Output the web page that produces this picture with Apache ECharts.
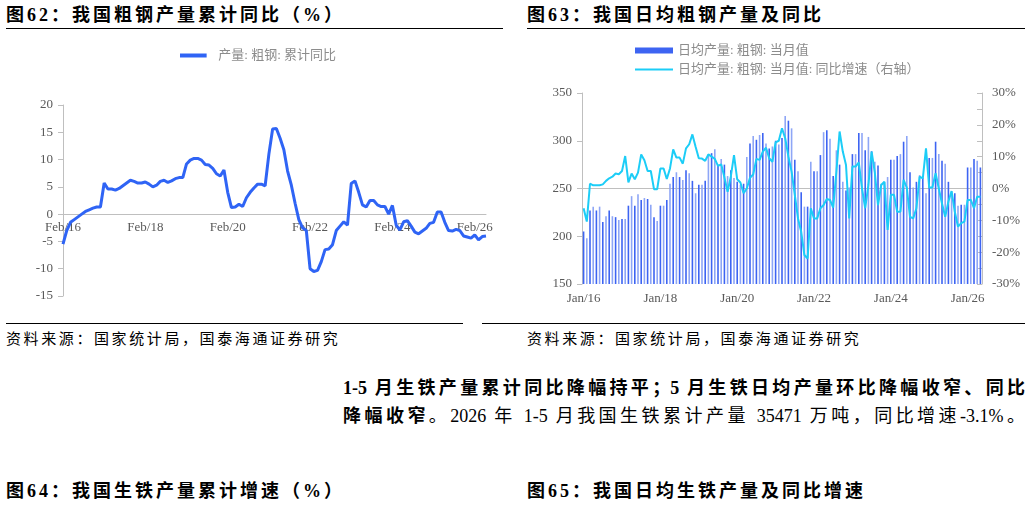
<!DOCTYPE html>
<html><head><meta charset="utf-8">
<script src="https://cdn.jsdelivr.net/npm/echarts@6/dist/echarts.min.js"></script>
<style>
body{margin:0;width:1032px;height:518px;background:#fff;position:relative;overflow:hidden;font-family:"Liberation Serif","Noto Sans CJK SC",serif;color:#000}
.h{position:absolute;font-weight:bold;font-size:18px;letter-spacing:3px;top:3px;height:25px;border-bottom:1.5px solid #000;line-height:24px}
.s{position:absolute;font-size:15px;letter-spacing:2.6px;top:328px;border-top:1.5px solid #000;padding-top:3px}
.p{position:absolute;left:343px;width:682px;font-size:18px;white-space:nowrap;text-align:justify;text-align-last:justify}
.c{position:absolute;top:32px;height:288px}
</style></head><body>
<div class="h" style="left:6px;width:497px">图62：我国粗钢产量累计同比（%）</div>
<div class="h" style="left:527px;width:498px">图63：我国日均粗钢产量及同比</div>
<div class="s" style="left:6px;width:457px;top:323px">资料来源：国家统计局，国泰海通证券研究</div>
<div class="s" style="left:482px;width:543px;top:323px;padding-left:45px;box-sizing:border-box">资料来源：国家统计局，国泰海通证券研究</div>
<div class="p" style="top:373px;font-weight:bold">1-5 月生铁产量累计同比降幅持平；5 月生铁日均产量环比降幅收窄、同比</div>
<div class="p" style="top:401px"><b>降幅收窄</b>。2026 年 1-5 月我国生铁累计产量 35471 万吨，同比增速-3.1%。</div>
<div class="h" style="left:6px;width:497px;top:479px;border:none">图64：我国生铁产量累计增速（%）</div>
<div class="h" style="left:527px;width:498px;top:479px;border:none">图65：我国日均生铁产量及同比增速</div>
<div id="c1" class="c" style="left:0;width:516px"></div>
<div id="c2" class="c" style="left:520px;width:512px"></div>
<script>
// Chart 1: cumulative YoY (Feb-Dec each year)
const cumYears = ['16','17','18','19','20','21','22','23','24','25','26'];
const cumMonths = ['Feb','Mar','Apr','May','Jun','Jul','Aug','Sep','Oct','Nov','Dec'];
const cumValues = [
 -5.5,-3,-1.5,-1,-0.5,0,0.5,0.8,1.1,1.3,1.3,
 5.7,4.6,4.6,4.4,4.7,5.2,5.7,6.2,6,5.7,5.7,
 5.9,5.5,5,5.3,6,6.2,5.8,6.1,6.5,6.7,6.7,
 9.2,9.9,10.2,10.2,9.9,9.1,9,8.4,7.4,7,8.1,
 4,1.2,1.3,1.8,1.4,3,4,4.8,5.5,5.5,5.2,
 11,15.6,15.7,13.9,11.8,7.9,5.3,2,-1,-2.5,-3,
 -10,-10.5,-10.3,-8.7,-6.5,-6.4,-5.6,-3,-2.2,-1.4,-2,
 5.6,6.1,4,1.7,1.3,2.5,2.5,1.7,1.4,1.4,0,
 1.6,-2,-2.9,-1.4,-1.2,-2.2,-3.3,-3.6,-3.1,-2.6,-1.7,
 -1.5,0.4,0.4,-1.5,-3,-3.1,-2.8,-3,-4,-4.2,-4.4,
 -3.8,-4.7,-4.1,-4.0
];
const cumCats = [];
for (const y of cumYears) for (const m of cumMonths) if (cumCats.length < cumValues.length) cumCats.push(m + '/' + y);

// Chart 2: daily average output and YoY (Jan/16 .. May/26)
const dailyValues = [
 205,198,227,231,227,231,215,221,227,221,220,217,
 218,218,232,242,232,244,238,240,239,233,220,216,
 232,232,238,255,262,267,262,259,269,266,258,245,
 254,254,258,286,287,291,275,281,275,263,269,261,
 257,254,255,283,297,305,301,306,308,297,292,294,
 300,296,303,326,321,313,280,268,246,231,231,278,
 268,268,285,309,311,302,263,290,275,257,248,251,
 286,286,308,308,290,304,289,278,274,255,257,262,
 280,280,284,286,299,305,267,251,257,264,261,245,
 282,282,299,286,279,276,257,247,245,232,233,233,
 272,272,281,279,272
];
const dailyYoY = [
 -6.2,-10.4,1.5,1,1,1,1.3,2.4,3.2,3.7,4.7,4.5,
 5.5,10.2,1.9,4.7,2.9,5,10.7,8.9,5.5,5.5,-0.2,-0.2,
 6.3,6.3,3,6.3,12.3,9.7,9.7,7.8,12.6,13.9,17,13.1,
 9.5,9.4,8.7,10.7,10,9.3,7.1,7.6,3.5,-1,3.7,10.5,
 2.9,1.9,-1.5,0,3.4,4.4,9.3,9,11.6,12.8,9.5,8.4,
 14.5,15,18.9,15.8,10,5.3,-2,-9.4,-13.6,-20.9,-22,-6.2,
 -9.4,-9.4,-6.2,-5.2,-3.3,-3.6,-6,5.3,17.9,11.6,7.4,-9.4,
 6.9,6.9,8.2,0,-6.2,1.1,11.6,5.1,-5.2,1.1,2.1,-13,
 -2,-2,-7.3,-7.3,2.7,0.3,-8.9,-9.4,-6.2,3.7,3.2,12.6,
 0.3,0.3,4.8,0,-4.7,-8.9,-4.1,-0.8,-7.3,-12,-10.9,-10.4,
 -3.6,-3.6,-6.2,-2.6,-2.6
];
const monthNames = ['Jan','Feb','Mar','Apr','May','Jun','Jul','Aug','Sep','Oct','Nov','Dec'];
const dailyCats = dailyValues.map((v,i)=> monthNames[i%12] + '/' + (16 + Math.floor(i/12)));

const FONT = '"Liberation Serif","Noto Sans CJK SC",serif';
const AX = '#bfbfbf', TX = '#595959';

const c1 = echarts.init(document.getElementById('c1'));
c1.setOption({
  animation:false,
  legend:{top:12,left:'center',icon:'path://M0,0H40V6H0Z',itemWidth:40,itemHeight:4,
    textStyle:{color:'#8c8c8c',fontSize:13,fontFamily:FONT},data:['产量: 粗钢: 累计同比']},
  grid:{left:63,right:30,top:73,bottom:24},
  xAxis:{type:'category',data:cumCats,boundaryGap:false,
    axisLine:{onZero:true,lineStyle:{color:AX}},
    axisTick:{show:false},
    axisLabel:{interval:21,color:TX,fontSize:13,fontFamily:FONT,margin:-75}},
  yAxis:{type:'value',min:-15,max:20,interval:5,splitLine:{show:false},
    axisLine:{show:true,lineStyle:{color:AX}},axisTick:{show:true,length:5,lineStyle:{color:AX}},
    axisLabel:{color:TX,fontSize:13,fontFamily:FONT,margin:10}},
  series:[{name:'产量: 粗钢: 累计同比',type:'line',data:cumValues,showSymbol:false,
    lineStyle:{color:'#2f64f5',width:3},itemStyle:{color:'#2f64f5'}}]
});

const c2 = echarts.init(document.getElementById('c2'));
c2.setOption({
  animation:false,
  legend:{orient:'vertical',left:110,top:7,itemGap:6,itemWidth:38,itemHeight:6,
    textStyle:{color:'#8c8c8c',fontSize:13,fontFamily:FONT},
    data:[{name:'日均产量: 粗钢: 当月值',icon:'rect',itemStyle:{color:'#3d64f2'}},
          {name:'日均产量: 粗钢: 当月值: 同比增速（右轴）',icon:'path://M0,0H40V2H0Z'}]},
  grid:{left:62,right:50,top:61,bottom:36},
  xAxis:{type:'category',data:dailyCats,
    axisLine:{lineStyle:{color:AX}},
    axisTick:{interval:23,length:4,lineStyle:{color:AX}},
    axisLabel:{interval:23,color:TX,fontSize:13,fontFamily:FONT,margin:8}},
  yAxis:[
    {type:'value',min:150,max:350,interval:50,splitLine:{show:false},
     axisLine:{show:true,lineStyle:{color:AX}},axisTick:{show:true,length:5,lineStyle:{color:AX}},
     axisLabel:{color:TX,fontSize:13,fontFamily:FONT,margin:10}},
    {type:'value',min:-30,max:30,interval:10,splitLine:{show:false},position:'right',
     axisLine:{show:true,lineStyle:{color:AX}},axisTick:{show:true,length:5,inside:true,lineStyle:{color:AX}},
     minorTick:{show:true,splitNumber:2,length:5,lineStyle:{color:AX}},
     axisLabel:{color:TX,fontSize:13,fontFamily:FONT,margin:10,formatter:'{value}%'}}
  ],
  series:[
    {name:'日均产量: 粗钢: 当月值',type:'bar',data:dailyValues,barWidth:1.6,
     itemStyle:{color:p=> p.dataIndex%2 ? '#8ea6f6' : '#3d64f2'}},
    {name:'日均产量: 粗钢: 当月值: 同比增速（右轴）',type:'line',yAxisIndex:1,data:dailyYoY,
     showSymbol:false,lineStyle:{color:'#1ccdf7',width:2},itemStyle:{color:'#1ccdf7'}}
  ]
});
</script>
</body></html>
